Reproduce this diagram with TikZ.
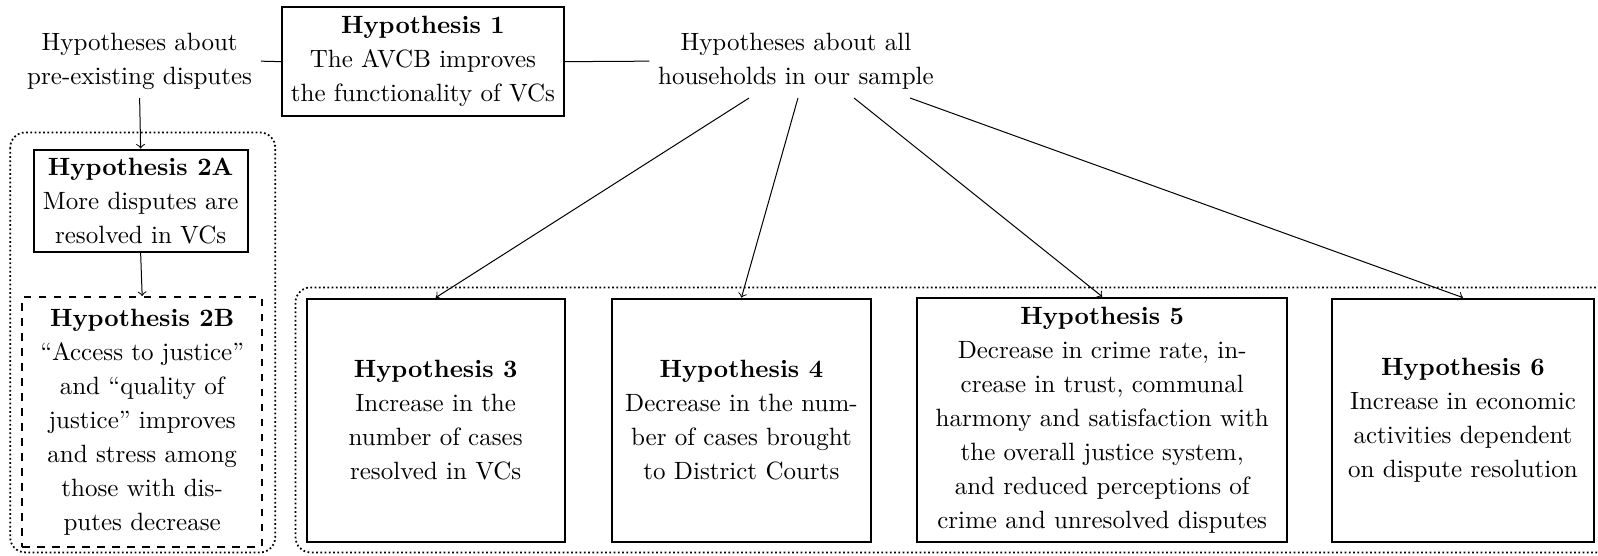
\documentclass[tikz,border=0pt]{standalone}
\usetikzlibrary{calc}
\begin{document}
\begin{tikzpicture}[x=0.4076pt,y=-0.4076pt,
  every node/.style={font=\fontsize{10}{13.6}\selectfont, align=center, inner sep=3.3pt},
  hbox/.style={draw, line width=0.8pt, minimum width=#1},
  hdash/.style={draw, line width=0.8pt, dashed, minimum width=#1},
  grp/.style={draw, densely dotted, line width=0.7pt, rounded corners=6pt},
  conn/.style={line width=0.4pt},
  arr/.style={line width=0.4pt, ->}]
\useasboundingbox (0,0) rectangle (1568,544.6);
% containers
\draw[grp] (10,130) rectangle (270,542);
\draw[grp] (1570,282) -- (290,282) -- (290,542) -- (1570,542);
% top row
\node (pre) at (137,60) {Hypotheses about\\pre-existing disputes};
\node[hbox=112.5pt, minimum height=43.6pt] (h1) at (415,60.5) {\textbf{Hypothesis 1}\\The AVCB improves\\the functionality of VCs};
\node (hall) at (781,60) {Hypotheses about all\\households in our sample};
% left column
\node[hbox=85.6pt, minimum height=40.8pt] (h2a) at (138,197) {\textbf{Hypothesis 2A}\\More disputes are\\resolved in VCs};
\node[hdash=95.8pt, minimum height=99.9pt] (h2b) at (139.5,414) {\textbf{Hypothesis 2B}\\``Access to justice''\\and ``quality of\\justice'' improves\\and stress among\\those with dis-\\putes decrease};
% bottom row
\node[hbox=103.1pt, minimum height=97.4pt] (h3) at (427.5,412.5) {\textbf{Hypothesis 3}\\Increase in the\\number of cases\\resolved in VCs};
\node[hbox=103.9pt, minimum height=97.4pt] (h4) at (727.5,412.5) {\textbf{Hypothesis 4}\\Decrease in the num-\\ber of cases brought\\to District Courts};
\node[hbox=148pt, minimum height=97.8pt] (h5) at (1081.5,412) {\textbf{Hypothesis 5}\\Decrease in crime rate, in-\\crease in trust, communal\\harmony and satisfaction with\\the overall justice system,\\and reduced perceptions of\\crime and unresolved disputes};
\node[hbox=104.8pt, minimum height=97.4pt] (h6) at (1435.5,412.5) {\textbf{Hypothesis 6}\\Increase in economic\\activities dependent\\on dispute resolution};
% connectors
\draw[conn] (pre.east) -- (h1.west);
\draw[conn] (h1.east) -- (hall.west);
\draw[arr] (pre.south) -- (h2a.north);
\draw[arr] (h2a.south) -- (h2b.north);
\draw[arr] ($(hall.south)+(-46,0)$) -- (h3.north);
\draw[arr] ($(hall.south)+(2,0)$) -- (h4.north);
\draw[arr] ($(hall.south)+(57,0)$) -- (h5.north);
\draw[arr] ($(hall.south)+(112,0)$) -- (h6.north);
\end{tikzpicture}
\end{document}
